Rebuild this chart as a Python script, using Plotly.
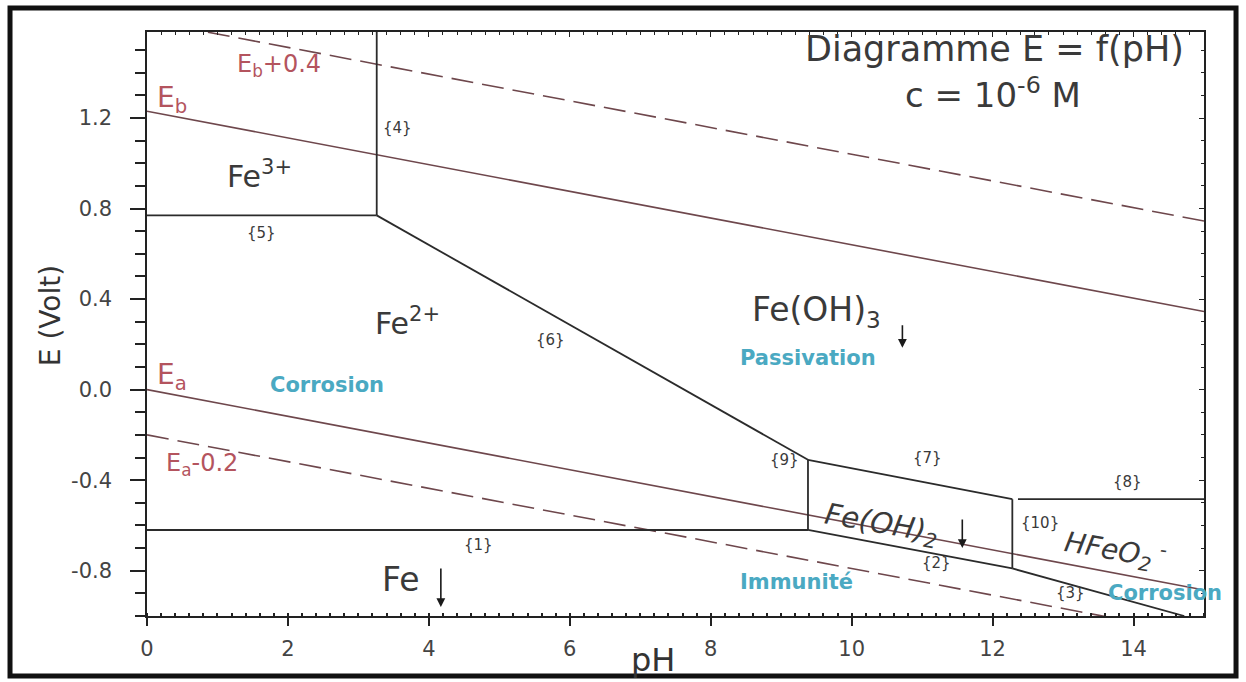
import plotly.graph_objects as go

# Pourbaix diagram of iron, c = 1e-6 M
PH_RANGE = [0, 15]
E_RANGE = [-1.0, 1.58]

# Water stability lines (pH, E) at both ends
eb_ph = [0, 15]
eb_E = [1.23, 0.345]
eb_up_ph = [0, 15]
eb_up_E = [1.63, 0.745]
ea_ph = [0, 15]
ea_E = [0.0, -0.885]
ea_dn_ph = [0, 15]
ea_dn_E = [-0.2, -1.085]

# Domain boundaries {1} .. {10}
b1_ph, b1_E = [0, 9.38], [-0.62, -0.62]
b2_ph, b2_E = [9.38, 12.28], [-0.62, -0.79]
b3_ph, b3_E = [12.28, 14.72], [-0.79, -1.0]
b4_ph, b4_E = [3.26, 3.26], [0.77, 1.58]
b5_ph, b5_E = [0, 3.26], [0.77, 0.77]
b6_ph, b6_E = [3.26, 9.38], [0.77, -0.31]
b7_ph, b7_E = [9.38, 12.28], [-0.31, -0.484]
b8_ph, b8_E = [12.36, 15], [-0.484, -0.484]
b9_ph, b9_E = [9.38, 9.38], [-0.31, -0.62]
b10_ph, b10_E = [12.28, 12.28], [-0.484, -0.79]

# Tick labels
x_ticks = [0, 2, 4, 6, 8, 10, 12, 14]
y_ticks = [-0.8, -0.4, 0.0, 0.4, 0.8, 1.2]
y_ticktext = ["-0.8", "-0.4", "0.0", "0.4", "0.8", "1.2"]

WATER = "#6e474c"
LABEL_RED = "#b4545e"
TEAL = "#4aa9c2"
DARK = "#3a3a3a"
FONT = "DejaVu Sans, Verdana, sans-serif"

fig = go.Figure()

def line(xs, ys, color, width=1.6, dash="solid"):
    fig.add_trace(go.Scatter(x=xs, y=ys, mode="lines",
                             line=dict(color=color, width=width, dash=dash),
                             hoverinfo="skip", showlegend=False))

line(eb_ph, eb_E, WATER)
line(eb_up_ph, eb_up_E, WATER, dash="22px,9px")
line(ea_ph, ea_E, WATER)
line(ea_dn_ph, ea_dn_E, WATER, dash="22px,9px")

for xs, ys in [(b1_ph, b1_E), (b2_ph, b2_E), (b3_ph, b3_E), (b4_ph, b4_E),
               (b5_ph, b5_E), (b6_ph, b6_E), (b7_ph, b7_E), (b8_ph, b8_E),
               (b9_ph, b9_E), (b10_ph, b10_E)]:
    line(xs, ys, "#2b2b2b", width=1.8)

# invisible trace carrying the top/right mirror axes
fig.add_trace(go.Scatter(x=PH_RANGE, y=E_RANGE, xaxis="x2", yaxis="y2",
                         mode="markers", marker=dict(opacity=0),
                         hoverinfo="skip", showlegend=False))

def note(x, y, text, size=14, color=DARK, angle=0, bold=False, family=FONT,
         xref="x", yref="y"):
    fig.add_annotation(x=x, y=y, xref=xref, yref=yref,
                       xanchor="center", yanchor="middle",
                       text=f"<b>{text}</b>" if bold else text,
                       showarrow=False, textangle=angle,
                       font=dict(size=size, color=color, family=family))

def arrow(x, y, length=34):
    fig.add_annotation(x=x, y=y, text="", showarrow=True, ax=0, ay=-length,
                       arrowhead=2, arrowsize=1.1, arrowwidth=1.6,
                       arrowcolor="#1a1a1a")

# water line labels
note(1.87, 1.43, "E<sub>b</sub>+0.4", 24, LABEL_RED)
note(0.36, 1.28, "E<sub>b</sub>", 28, LABEL_RED)
note(0.36, 0.06, "E<sub>a</sub>", 28, LABEL_RED)
note(0.78, -0.33, "E<sub>a</sub>-0.2", 24, LABEL_RED)

# species
note(1.59, 0.95, "Fe<sup>3+</sup>", 30)
note(3.69, 0.30, "Fe<sup>2+</sup>", 30)
note(9.50, 0.345, "Fe(OH)<sub>3</sub>", 33)
arrow(10.72, 0.185, 24)
note(3.60, -0.84, "Fe", 33)
arrow(4.17, -0.96, 40)
note(10.42, -0.60, "<i>Fe(OH)<sub>2</sub></i>", 29, angle=10)
arrow(11.57, -0.70, 30)
note(13.74, -0.71, "<i>HFeO<sub>2</sub><sup> -</sup></i>", 28, angle=10)

# boundary numbers
note(3.55, 1.156, "{4}", 15)
note(1.63, 0.692, "{5}", 15)
note(5.72, 0.22, "{6}", 15)
note(4.70, -0.686, "{1}", 15)
note(9.05, -0.31, "{9}", 15)
note(11.08, -0.30, "{7}", 15)
note(13.91, -0.41, "{8}", 15)
note(12.67, -0.59, "{10}", 15)
note(11.21, -0.765, "{2}", 15)
note(13.10, -0.898, "{3}", 15)

# behaviour zones
note(9.38, 0.14, "Passivation", 21, TEAL, bold=True)
note(2.55, 0.02, "Corrosion", 21, TEAL, bold=True)
note(9.22, -0.85, "Immunité", 21, TEAL, bold=True)
note(14.45, -0.90, "Corrosion", 21, TEAL, bold=True)

# title block inside the plot
note(12.03, 1.505, "Diagramme E = f(pH)", 35)
note(12.0, 1.31, "c = 10<sup>-6</sup> M", 34)

# axis titles
note(0.4787, -0.0753, "pH", 32, "#333", xref="paper", yref="paper")
note(-0.0918, 0.515, "E (Volt)", 28, "#333", angle=-90,
     xref="paper", yref="paper")

# outer frame
fig.add_shape(type="rect", xref="paper", yref="paper",
              x0=-0.1296, x1=1.0303, y0=-0.1027, y1=1.041,
              line=dict(color="#111111", width=5), layer="above")

axis_common = dict(showgrid=False, zeroline=False, linecolor="#222222",
                   linewidth=1.5, tickcolor="#222222")

fig.update_layout(
    width=1246, height=682,
    margin=dict(l=147, r=42, t=32, b=66),
    paper_bgcolor="white", plot_bgcolor="white",
    font=dict(family=FONT, color=DARK),
    xaxis=dict(range=PH_RANGE, tickvals=x_ticks, ticks="outside", ticklen=8,
               tickwidth=1.5, tickfont=dict(size=21, color="#444"),
               ticklabelstandoff=5,
               minor=dict(dtick=0.2, ticks="inside", ticklen=3, tickcolor="#222"),
               **axis_common),
    yaxis=dict(range=E_RANGE, tickvals=y_ticks, ticktext=y_ticktext,
               ticks="outside", ticklen=15, tickwidth=1.5,
               tickfont=dict(size=21, color="#444"), ticklabelstandoff=14,
               minor=dict(dtick=0.1, tick0=0, ticks="outside", ticklen=10,
                          tickcolor="#222"),
               **axis_common),
    xaxis2=dict(range=PH_RANGE, overlaying="x", side="top", showticklabels=False,
                tickvals=x_ticks, ticks="inside", ticklen=5,
                minor=dict(dtick=0.2, ticks="inside", ticklen=3, tickcolor="#222"),
                **axis_common),
    yaxis2=dict(range=E_RANGE, overlaying="y", side="right", showticklabels=False,
                tickvals=y_ticks, ticks="inside", ticklen=5,
                minor=dict(dtick=0.1, tick0=0, ticks="inside", ticklen=3,
                           tickcolor="#222"),
                **axis_common),
)

fig.write_html("out.html")
